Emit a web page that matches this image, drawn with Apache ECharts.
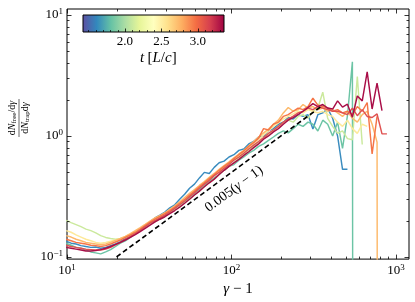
<!DOCTYPE html>
<html><head><meta charset="utf-8">
<script src="https://cdn.jsdelivr.net/npm/echarts@6/dist/echarts.min.js"></script>
<style>html,body{margin:0;padding:0;background:#fff}#c{width:415px;height:302px}</style>
</head><body><div id="c"></div>
<script>
// ---- data ----
const xBins = [9.886,10.59,11.35,12.16,13.03,13.96,14.96,16.03,17.18,18.41,
 19.72,21.13,22.64,24.26,26.00,27.86,29.85,31.98,34.27,36.72,
 39.36,42.17,45.19,48.42,51.88,55.59,59.57,63.83,68.39,73.28,
 78.52,84.14,90.15,96.60,103.5,110.9,118.8,127.3,136.4,146.2,
 156.7,167.9,179.9,192.8,206.6,221.3,237.2,254.1,272.3,291.8,
 312.6,335.0,358.9,384.6,412.1,441.6,473.2,507.0,543.3,582.1,
 623.7,668.3,716.1,767.3,822.2,881.0];
const ratio_t1 = [0.135,0.13,0.128,0.124,0.122,0.12,0.121,0.118,0.12,0.124,0.128,
 0.134,0.142,0.148,0.16,0.168,0.18,0.196,0.21,0.222,0.235,
 0.255,0.27,0.3,0.33,0.37,0.4,0.45,0.5,0.49,0.55,
 0.6,0.62,0.67,0.7,0.76,0.78,0.86,0.9,0.98,1.0,
 1.1,1.15,1.25,1.3,1.42,1.38,1.5,1.45,1.5,1.14,
 1.5,1.55,1.68,1.4,1.0,0.53,0.53];
const ratio_t2 = [0.13,0.125,0.12,0.118,0.114,0.11,0.108,0.106,0.11,0.115,0.122,
 0.13,0.136,0.145,0.155,0.165,0.175,0.19,0.2,0.21,0.222,
 0.235,0.25,0.27,0.285,0.31,0.335,0.36,0.39,0.42,0.45,
 0.48,0.52,0.56,0.58,0.63,0.67,0.72,0.76,0.82,0.86,
 0.92,0.98,1.05,1.1,1.06,1.15,1.25,1.2,1.3,1.25,
 1.1,1.35,1.25,1.0,1.3,0.79,1.47,4.1,1e-30];
const ratio_t3 = [0.2,0.192,0.185,0.178,0.17,0.165,0.158,0.15,0.145,0.142,0.14,
 0.142,0.145,0.15,0.155,0.165,0.175,0.188,0.195,0.205,0.215,
 0.23,0.245,0.26,0.28,0.3,0.325,0.35,0.38,0.41,0.44,
 0.48,0.52,0.56,0.6,0.66,0.7,0.76,0.82,0.88,0.95,
 1.02,1.1,1.2,1.28,1.35,1.3,1.45,1.5,1.4,1.6,
 1.7,2.3,1.4,1.2,1.05,1.1,0.95,0.93,3.1,0.85];
const ratio_t4 = [0.165,0.16,0.152,0.146,0.14,0.136,0.132,0.13,0.132,0.135,0.138,
 0.142,0.148,0.155,0.162,0.172,0.182,0.195,0.205,0.215,0.228,
 0.24,0.258,0.275,0.295,0.32,0.345,0.375,0.405,0.435,0.47,
 0.51,0.55,0.59,0.64,0.68,0.74,0.8,0.87,0.93,1.02,
 1.1,1.2,1.28,1.38,1.45,1.52,1.6,1.55,1.65,1.6,
 1.55,1.6,1.5,1.45,1.3,1.2,1.35,1.15,1.05,1.25,1.2];
const ratio_t5 = [0.15,0.146,0.14,0.136,0.132,0.13,0.128,0.126,0.128,0.132,0.137,
 0.142,0.148,0.156,0.165,0.175,0.186,0.198,0.21,0.22,0.232,
 0.248,0.265,0.285,0.31,0.335,0.36,0.39,0.42,0.455,0.49,
 0.53,0.57,0.61,0.66,0.71,0.76,0.83,0.9,0.98,1.06,
 1.14,1.25,1.35,1.55,1.72,1.6,1.65,1.82,1.7,1.75,
 1.65,1.7,1.6,1.65,1.55,1.45,1.6,1.4,1.3,1.5,1.6,1.25,0.89,1e-30];
const ratio_t6 = [0.14,0.136,0.132,0.13,0.128,0.125,0.124,0.122,0.124,0.128,0.133,
 0.138,0.145,0.152,0.16,0.17,0.182,0.194,0.205,0.216,0.228,
 0.242,0.258,0.278,0.3,0.325,0.35,0.38,0.41,0.445,0.48,
 0.52,0.56,0.6,0.65,0.7,0.75,0.82,0.88,0.96,1.15,
 1.12,1.25,1.3,1.45,1.5,1.6,1.7,1.65,1.75,2.05,
 1.8,1.75,1.7,1.6,1.65,1.55,1.6,1.5,1.75,1.6,1.89,0.71,1.45];
const ratio_t7 = [0.125,0.122,0.12,0.118,0.116,0.115,0.114,0.114,0.116,0.12,0.126,
 0.132,0.14,0.148,0.156,0.166,0.178,0.19,0.2,0.21,0.222,
 0.236,0.252,0.27,0.29,0.315,0.34,0.37,0.4,0.43,0.47,
 0.5,0.54,0.58,0.63,0.67,0.72,0.78,0.84,0.9,0.97,
 1.05,1.12,1.2,1.3,1.38,1.46,1.55,1.6,1.7,1.65,
 1.75,1.7,1.65,1.6,1.6,1.55,1.5,1.7,1.47,1.65,1.45,1.42,1.52,1.04,1.04];
const ratio_t8 = [0.12,0.118,0.116,0.114,0.112,0.112,0.113,0.115,0.118,0.122,0.127,
 0.132,0.138,0.145,0.153,0.162,0.172,0.183,0.195,0.205,0.215,
 0.228,0.242,0.258,0.278,0.3,0.325,0.35,0.38,0.41,0.44,
 0.48,0.52,0.56,0.6,0.64,0.69,0.74,0.8,0.86,0.94,
 1.0,1.08,1.15,1.25,1.35,1.42,1.5,1.6,1.72,1.85,
 1.75,1.82,1.7,1.67,1.95,1.73,1.83,1.43,2.14,1.95,3.38,1.67,2.73,1.62];
const seriesValues = [ratio_t1,ratio_t2,ratio_t3,ratio_t4,ratio_t5,ratio_t6,ratio_t7,ratio_t8];
const refCoef = 0.005;
const refX = [20, 360];
const xMajorTicks = [10, 100, 1000];
const xMinorTicks = [20,30,40,50,60,70,80,90,200,300,400,500,600,700,800,900];
const yMajorTicks = [0.1, 1, 10];
const yMinorTicks = [0.2,0.3,0.4,0.5,0.6,0.7,0.8,0.9,2,3,4,5,6,7,8,9];
const cbMin = 1.425, cbMax = 3.36;
const cbMajorTicks = [2.0, 2.5, 3.0];
const cbMinorTicks = [1.5,1.6,1.7,1.8,1.9,2.1,2.2,2.3,2.4,2.6,2.7,2.8,2.9,3.1,3.2,3.3];

// ---- styles ----
const X_MIN = 10, X_MAX = 1200, Y_MIN = 0.096, Y_MAX = 11.2;
const lineColors = ['#3a8cbf','#6cc4a5','#cbe99d','#fde99a','#fdb96a','#f57547','#df5150','#a90d47'];
const spectralR = ['#5e4fa2','#3288bd','#66c2a5','#abdda4','#e6f598','#ffffbf','#fee08b','#fdae61','#f46d43','#d53e4f','#9e0142'];
const FONT = 'Liberation Serif';

const chart = echarts.init(document.getElementById('c'), null, {renderer:'canvas'});

function powLabel(v){
  const lg = Math.log10(v), e = Math.round(lg);
  if (Math.abs(lg - e) > 1e-6) return '';
  return '{b|10}{e|' + (e < 0 ? '\u2212' : '') + Math.abs(e) + '}';
}
const labelRich = {
  b:{fontFamily:FONT,fontSize:13,color:'#000',lineHeight:15},
  e:{fontFamily:FONT,fontSize:9,color:'#000',verticalAlign:'top',lineHeight:9}
};

const tickData = [];
xMajorTicks.forEach(v=>tickData.push([v, Y_MIN, 0]));
xMinorTicks.forEach(v=>tickData.push([v, Y_MIN, 1]));
yMajorTicks.forEach(v=>tickData.push([X_MIN, v, 2]));
yMinorTicks.forEach(v=>tickData.push([X_MIN, v, 3]));

const series = seriesValues.map((vals,i)=>({
  type:'line', name:'s'+i, data: vals.map((y,k)=>[xBins[k], y]),
  showSymbol:false, symbol:'none', clip:true, z:2+i,
  lineStyle:{color:lineColors[i], width:1.45}, silent:true
}));
series.push({
  type:'line', data: refX.map(x=>[x, refCoef*x]), showSymbol:false, symbol:'none', z:20,
  lineStyle:{color:'#000', width:1.6, type:[5,3]}, silent:true
});
series.push({
  type:'custom', data: tickData, encode:{x:0,y:1}, z:30, silent:true,
  renderItem:function(params, api){
    const kind = api.value(2);
    const st = {stroke:'#000', lineWidth:0.8};
    if (kind < 2) {
      const xv = api.value(0);
      const pb = api.coord([xv, Y_MIN]), pt = api.coord([xv, Y_MAX]);
      const L = kind === 0 ? 4.5 : 2.5;
      const x = Math.round(pb[0]) + 0.5;
      return {type:'group', children:[
        {type:'line', shape:{x1:x,y1:pb[1],x2:x,y2:pb[1]-L}, style:st},
        {type:'line', shape:{x1:x,y1:pt[1],x2:x,y2:pt[1]+L}, style:st}
      ]};
    } else {
      const yv = api.value(1);
      const pl = api.coord([X_MIN, yv]), pr = api.coord([X_MAX, yv]);
      const L = kind === 2 ? 4.5 : 2.5;
      const y = Math.round(pl[1]) + 0.5;
      return {type:'group', children:[
        {type:'line', shape:{x1:pl[0],y1:y,x2:pl[0]+L,y2:y}, style:st},
        {type:'line', shape:{x1:pr[0],y1:y,x2:pr[0]-L,y2:y}, style:st}
      ]};
    }
  }
});

// colorbar
const CB = {x:83, y:15, w:141, h:17};
function cbX(t){ return CB.x + (t - cbMin)/(cbMax - cbMin)*CB.w; }
const cbGraphics = [];
cbGraphics.push({type:'rect', shape:{x:CB.x,y:CB.y,width:CB.w,height:CB.h}, z:50,
  style:{fill:new echarts.graphic.LinearGradient(0,0,1,0, spectralR.map((c,i)=>({offset:i/(spectralR.length-1), color:c}))), stroke:'#000', lineWidth:1}});
cbMinorTicks.forEach(t=>{ const x=Math.round(cbX(t))+0.5; cbGraphics.push({type:'line', z:51, shape:{x1:x,y1:CB.y+CB.h,x2:x,y2:CB.y+CB.h-2}, style:{stroke:'#000',lineWidth:0.7}}); });
cbMajorTicks.forEach(t=>{ const x=Math.round(cbX(t))+0.5; cbGraphics.push({type:'line', z:51, shape:{x1:x,y1:CB.y+CB.h,x2:x,y2:CB.y+CB.h-3.5}, style:{stroke:'#000',lineWidth:0.8}});
  cbGraphics.push({type:'text', z:51, x:cbX(t), y:CB.y+CB.h+3.5, style:{text:t.toFixed(1), align:'center', verticalAlign:'top', fontFamily:FONT, fontSize:13, fill:'#000'}}); });
cbGraphics.push({type:'text', z:51, x:cbX(2.5)-3, y:51, style:{text:'{i|t} {r|[}{i|L}{r|/}{i|c}{r|]}', align:'center', verticalAlign:'top',
  rich:{i:{fontFamily:FONT,fontStyle:'italic',fontSize:15,fill:'#000'}, r:{fontFamily:FONT,fontSize:15,fill:'#000'}}}});

// y-axis fraction label
const fracRich = {
  r:{fontFamily:FONT,fontSize:10,fill:'#000'},
  i:{fontFamily:FONT,fontSize:10,fontStyle:'italic',fill:'#000'},
  s:{fontFamily:FONT,fontSize:7,fill:'#000',verticalAlign:'bottom',padding:[3,0,0,0]}
};
const yLabel = {type:'group', x:19, y:118, rotation:Math.PI/2, z:50, children:[
  {type:'text', x:0, y:-1.5, style:{text:'{r|d}{i|N}{s|free}{r|/d}{i|γ}', align:'center', verticalAlign:'bottom', rich:fracRich}},
  {type:'line', shape:{x1:-19,y1:0,x2:19,y2:0}, style:{stroke:'#000', lineWidth:0.6}},
  {type:'text', x:0, y:1.5, style:{text:'{r|d}{i|N}{s|trap}{r|d}{i|γ}', align:'center', verticalAlign:'top', rich:fracRich}}
]};

// annotation along dashed line
const annot = {type:'text', x:234, y:189, rotation:36.4*Math.PI/180, z:50,
  style:{text:'{r|0.005(}{i|γ}{r| \u2212 1)}', align:'center', verticalAlign:'middle',
  rich:{r:{fontFamily:FONT,fontSize:14,fill:'#000'}, i:{fontFamily:FONT,fontStyle:'italic',fontSize:14,fill:'#000'}}}};

chart.setOption({
  animation:false,
  backgroundColor:'#fff',
  grid:{left:67, right:6, top:9, bottom:42, show:true, borderColor:'#000', borderWidth:1, backgroundColor:'transparent'},
  xAxis:{type:'log', logBase:10, min:X_MIN, max:X_MAX,
    axisLine:{show:false}, axisTick:{show:false}, splitLine:{show:false}, minorTick:{show:false},
    axisLabel:{formatter:powLabel, rich:labelRich, margin:4, hideOverlap:false, showMinLabel:true},
    name:'{i|γ}{r| \u2212 1}', nameLocation:'middle', nameGap:20,
    nameTextStyle:{rich:{i:{fontFamily:FONT,fontStyle:'italic',fontSize:15,color:'#000'}, r:{fontFamily:FONT,fontSize:15,color:'#000'}}}
  },
  yAxis:{type:'log', logBase:10, min:Y_MIN, max:Y_MAX,
    axisLine:{show:false}, axisTick:{show:false}, splitLine:{show:false}, minorTick:{show:false},
    axisLabel:{formatter:powLabel, rich:labelRich, margin:4, hideOverlap:false}
  },
  graphic: cbGraphics.concat([yLabel, annot]),
  series: series
});
</script></body></html>
